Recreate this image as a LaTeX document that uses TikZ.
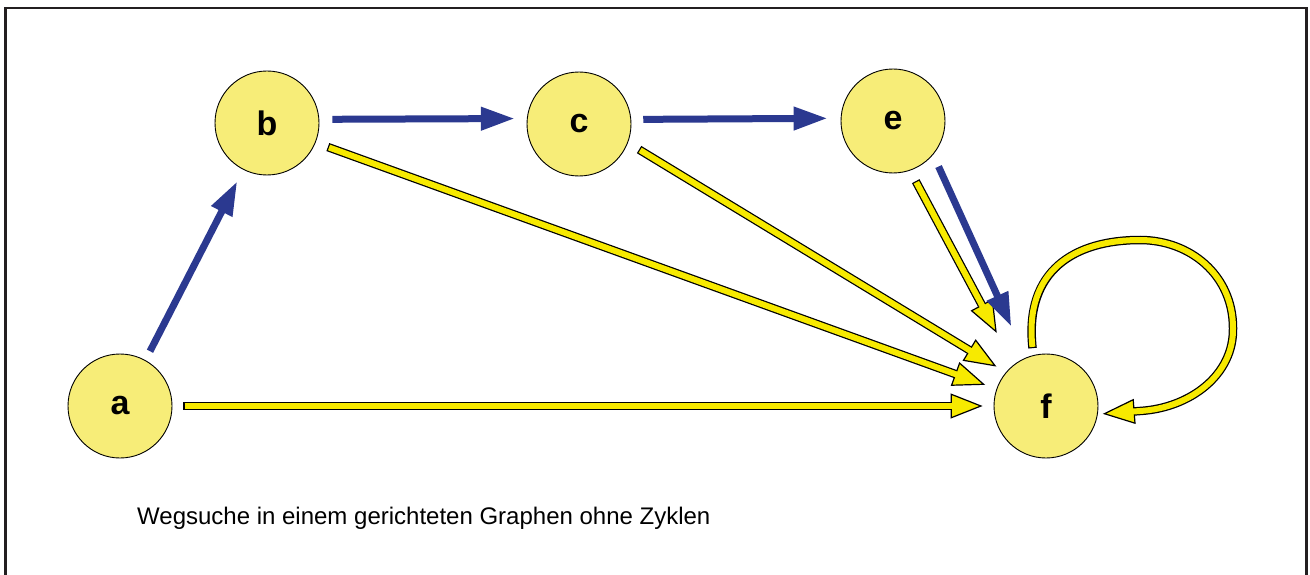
\documentclass[tikz,border=0pt]{standalone}
\usepackage{fontspec}
\setmainfont{Liberation Sans}
\usetikzlibrary{arrows.meta}
\definecolor{nodefill}{RGB}{247,237,120}
\definecolor{arrowyellow}{RGB}{247,234,0}
\definecolor{arrowblue}{RGB}{43,57,144}
\definecolor{framegray}{RGB}{35,31,32}
\newcommand\yellowconnect[4]{%
  \draw[yellowout,shorten <=#3pt,shorten >=#4pt] #1 -- #2;
  \draw[yellowin,shorten <=#3pt+1.25pt,shorten >=#4pt+16pt] #1 -- #2;}
\begin{document}
\begin{tikzpicture}[x=1pt,y=-1pt,
  vertex/.style={circle,draw=black,line width=0.9pt,fill=nodefill,minimum size=104pt,inner sep=0pt,font=\bfseries\fontsize{34}{34}\selectfont},
  bluearrow/.style={draw=arrowblue,line width=7pt,-{Triangle[length=34pt,width=22pt]}},
  yellowout/.style={draw=black,line width=8.5pt,-{Triangle[length=32pt,width=25pt,line width=1.2pt,fill=arrowyellow]}},
  yellowin/.style={draw=arrowyellow,line width=6pt},
  caption/.style={font=\fontsize{24}{28}\selectfont,anchor=base west,inner sep=0pt}]
\useasboundingbox (0,0) rectangle (1310,575);
\draw[framegray,line width=2.6pt] (5.3,575) -- (5.3,8) -- (1306.3,8) -- (1306.3,575);

\node[vertex] (a) at (120,406) {a};
\node[vertex] (b) at (267,123) {b};
\node[vertex] (c) at (579,124) {c};
\node[vertex] (e) at (893,121) {e};
\node[vertex] (f) at (1046,406) {f};

% yellow arrows
\yellowconnect{(a.0)}{(f.180)}{11}{11}
\yellowconnect{(b.-22.6)}{(f.161.8)}{13}{12}
\yellowconnect{(c.-21.5)}{(f.140.8)}{13}{11}
\yellowconnect{(e.-71.8)}{(f.128)}{12}{36}
% self loop at f
\coordinate (loopend) at (1140,411);
\draw[yellowout,shorten <=7pt,shorten >=5pt] (f.104) .. controls (1024,270) and (1075,240) .. (1140,240) .. controls (1190,240) and (1233,275) .. (1233,328) .. controls (1234,375) and (1190,408) .. (loopend) -- (f.-9);
\draw[yellowin,shorten <=8.25pt,shorten >=21pt] (f.104) .. controls (1024,270) and (1075,240) .. (1140,240) .. controls (1190,240) and (1233,275) .. (1233,328) .. controls (1234,375) and (1190,408) .. (loopend) -- (f.-9);

% blue arrows
\draw[bluearrow,shorten <=10pt,shorten >=13pt] (a.61) -- (b.-117.3);
\draw[bluearrow,shorten <=13pt,shorten >=12pt] (b.4.4) -- (c.174.6);
\draw[bluearrow,shorten <=12pt,shorten >=13pt] (c.5.4) -- (e.177.4);
\draw[bluearrow,shorten <=13pt,shorten >=34pt] (e.-40) -- (f.113.3);

\node[caption] (cap) at (137,524) {Wegsuche in einem gerichteten Graphen ohne Zyklen};
\end{tikzpicture}
\end{document}
